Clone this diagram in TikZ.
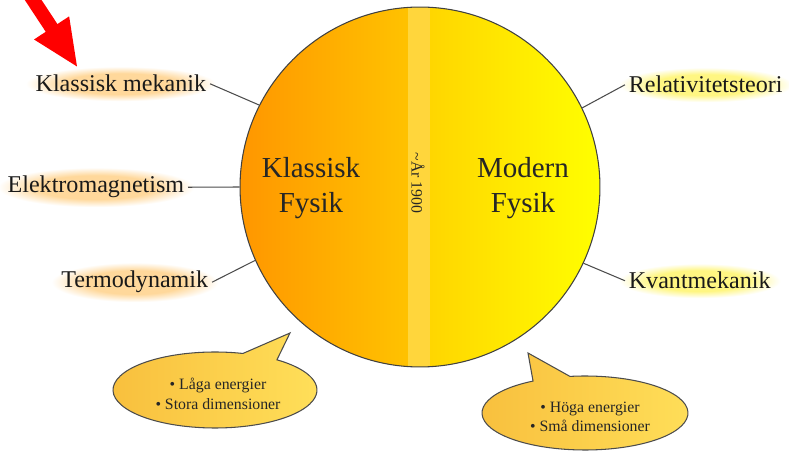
\documentclass[tikz,border=0pt]{standalone}
\usepackage{fontspec}
\setmainfont{Liberation Serif}
\usepackage{tikz}
\usetikzlibrary{arrows.meta,calc,backgrounds}

\definecolor{kfleft}{RGB}{255,150,0}
\definecolor{kfright}{RGB}{255,194,0}
\definecolor{stripe}{RGB}{255,214,60}
\definecolor{mfleft}{RGB}{255,214,0}
\definecolor{mfright}{RGB}{255,255,0}
\definecolor{bubleft}{RGB}{248,190,60}
\definecolor{bubright}{RGB}{255,224,90}
\definecolor{glowor}{RGB}{255,216,155}
\definecolor{glowye}{RGB}{255,246,130}

\pgfdeclareradialshading{orglow}{\pgfpointorigin}{color(0bp)=(glowor); color(15bp)=(glowor); color(25bp)=(white); color(50bp)=(white)}
\pgfdeclareradialshading{yeglow}{\pgfpointorigin}{color(0bp)=(glowye); color(15bp)=(glowye); color(25bp)=(white); color(50bp)=(white)}

\begin{document}
\begin{tikzpicture}[x=0.02cm,y=-0.02cm,
  lbl/.style={font=\fontsize{13.7}{16}\selectfont, inner sep=2pt, text=black!90},
  big/.style={font=\fontsize{16.5}{19.8}\selectfont, align=center, text=black!85},
  bub/.style={draw=black!70, line width=0.6pt, left color=bubleft, right color=bubright},
  bubtxt/.style={font=\fontsize{9}{11}\selectfont, align=center, text=black!85},
  conn/.style={draw=black!70, line width=0.6pt}]
\useasboundingbox (0,0) rectangle (789,462);

\begin{scope}
\clip (420,187) circle [radius=3.6cm];
\shade [left color=kfleft, right color=kfright] (239,0) rectangle (408,380);
\fill [stripe] (408,0) rectangle (430,380);
\shade [left color=mfleft, right color=mfright] (430,0) rectangle (601,380);
\end{scope}
\node [circle, draw=black!75, line width=0.6pt, minimum size=7.2cm, inner sep=0pt] (fys) at (420,187) {};

\node [big] (klf) at (311,188) {Klassisk\\Fysik};
\node [big] (mof) at (523,188) {Modern\\Fysik};
\node [font=\fontsize{9}{10}\selectfont, rotate=-90, text=black!85] (ar) at (418,183) {\textasciitilde År 1900};

\node [lbl, anchor=base east] (km) at (210,92) {Klassisk mekanik};
\node [lbl, anchor=base east] (em) at (188,193) {Elektromagnetism};
\node [lbl, anchor=base east] (td) at (212,288) {Termodynamik};
\node [lbl, anchor=base west] (rel) at (625,93) {Relativitetsteori};
\node [lbl, anchor=base west] (qm) at (625,289) {Kvantmekanik};

\begin{scope}[on background layer]
\foreach \n/\g in {km/orglow, em/orglow, td/orglow, rel/yeglow, qm/yeglow}
  \shade [shading=\g] ($(\n.south west)+(-6,5)$) rectangle ($(\n.north east)+(6,-5)$);
\end{scope}

\draw [conn] (km.east) -- (fys.153.7);
\draw [conn] (em.east) -- (fys.180);
\draw [conn] (td.east) -- (fys.204.6);
\draw [conn] (rel.west) -- (fys.26.1);
\draw [conn] (qm.west) -- (fys.-25.3);

\coordinate (lowc) at (215,390);
\coordinate (lowtip) at (290,333);
\draw [bub] (lowc) ++(74.1:2.04cm and 0.76cm) arc [start angle=74.1, end angle=412.6, x radius=2.04cm, y radius=0.76cm] -- (lowtip) -- cycle;
\node [bubtxt] (lowtxt) at (218,394) {• Låga energier\\• Stora dimensioner};

\coordinate (highc) at (585,413);
\coordinate (hightip) at (528,353);
\draw [bub] (highc) ++(120.3:2.06cm and 0.74cm) arc [start angle=120.3, end angle=458.4, x radius=2.06cm, y radius=0.74cm] -- (hightip) -- cycle;
\node [bubtxt] (hightxt) at (590,417) {• Höga energier\\• Små dimensioner};

\coordinate (arrtail) at (20,-20);
\coordinate (arrtip) at (78,68);
\draw [red, line width=0.28cm, -{Triangle[width=0.76cm,length=0.96cm]}] (arrtail) -- (arrtip);

\end{tikzpicture}
\end{document}
